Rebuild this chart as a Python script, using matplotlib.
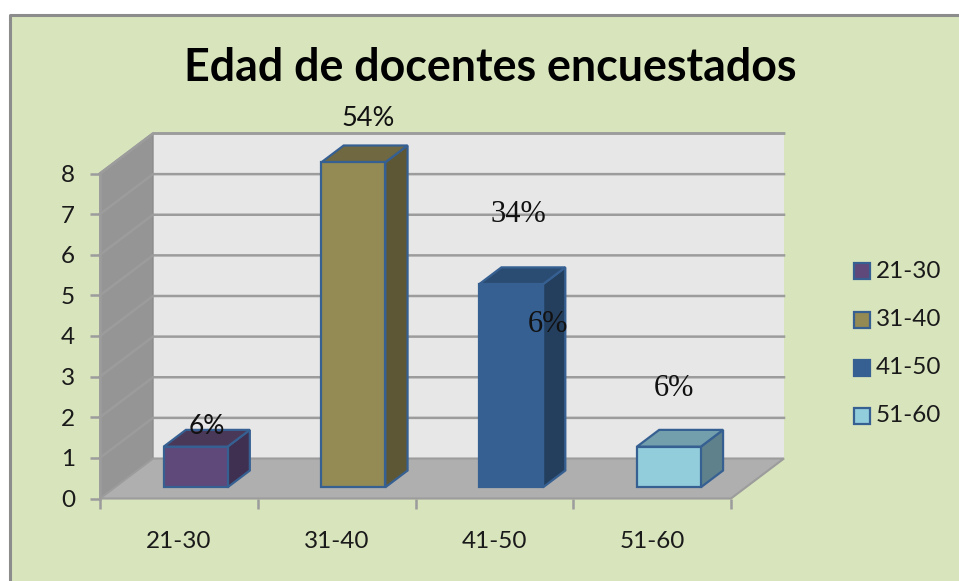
import matplotlib
matplotlib.use("Agg")
import matplotlib.pyplot as plt
from matplotlib.patches import Polygon, Rectangle

categories = ["21-30", "31-40", "41-50", "51-60"]
values = [1, 8, 5, 1]
front_colors = ["#5F497A", "#948A54", "#366092", "#92CDDC"]
top_colors = ["#4A3858", "#6F6840", "#2B4C72", "#739EAB"]
side_colors = ["#3F2F50", "#5E5735", "#243F5E", "#5F818C"]
y_ticks = [0, 1, 2, 3, 4, 5, 6, 7, 8]
title = "Edad de docentes encuestados"
pct_labels = ["6%", "54%", "34%", "6%", "6%"]

W, H = 959, 581
BG = "#D8E4BC"
GRID = "#9C9C9C"
EDGE = "#366092"
SANS = "Lato"
SERIF = "Liberation Serif"

fig = plt.figure(figsize=(W / 100, H / 100), dpi=100, facecolor="white")


def fx(p):
    return p / W


def fy(p):
    return 1 - p / H


# Chart area with grey top and left border
fig.add_artist(Rectangle((fx(10), 0), 1 - fx(10), fy(15), transform=fig.transFigure,
                         facecolor=BG, edgecolor="none", zorder=0))
fig.add_artist(plt.Line2D([fx(9.5), fx(9.5), 1], [0, fy(14.5), fy(14.5)], transform=fig.transFigure,
                          color="#8C8C8C", lw=2.2, zorder=1))

# Axes = the front plane of the oblique box
ax = fig.add_axes([fx(100), fy(498.5), 631 / W, 325 / H])
ax.set_xlim(0, 4)
ax.set_ylim(0, 8)
ax.patch.set_alpha(0)
for s in ax.spines.values():
    s.set_visible(False)

DX = 53 / (631 / 4)   # full depth, x units
DY = 40 / (325 / 8)   # full depth, y units
TOP = max(y_ticks)


def proj(x, y, d):
    return (x + d * DX, y + d * DY)


def poly(pts, **kw):
    ax.add_patch(Polygon(pts, closed=True, clip_on=False, **kw))


# Walls and floor
poly([proj(0, 0, 1), proj(4, 0, 1), proj(4, TOP, 1), proj(0, TOP, 1)],
     facecolor="#E7E7E7", edgecolor="none", zorder=1)
poly([proj(0, 0, 0), proj(0, 0, 1), proj(0, TOP, 1), proj(0, TOP, 0)],
     facecolor="#959595", edgecolor="#8C8C8C", lw=1, zorder=1)
poly([proj(0, 0, 0), proj(4, 0, 0), proj(4, 0, 1), proj(0, 0, 1)],
     facecolor="#AFAFAF", edgecolor="#9C9C9C", lw=1.5, zorder=1)

# Gridlines
for v in y_ticks[1:]:
    a, b, c = proj(0, v, 0), proj(0, v, 1), proj(4, v, 1)
    ax.plot([a[0], b[0], c[0]], [a[1], b[1], c[1]], color=GRID, lw=1.8, zorder=2,
            clip_on=False, solid_joinstyle="miter")
top = [proj(0, TOP, 0), proj(0, TOP, 1), proj(4, TOP, 1)]
ax.plot(*zip(*top), color=GRID, lw=1.8, zorder=2, clip_on=False)
ax.plot([0, 0], [0, TOP], color=GRID, lw=1.8, zorder=2, clip_on=False)

# Bars
BAR_W = 0.405
SHIFT = 0.012
D0, D1 = 0.28, 0.70
for i, (v, cf, ct, cs) in enumerate(zip(values, front_colors, top_colors, side_colors)):
    c = i + 0.5 + SHIFT
    l, r = c - BAR_W / 2, c + BAR_W / 2
    kw = dict(edgecolor=EDGE, lw=1.6, joinstyle="miter", zorder=3 + i)
    poly([proj(r, 0, D0), proj(r, 0, D1), proj(r, v, D1), proj(r, v, D0)], facecolor=cs, **kw)
    poly([proj(l, v, D0), proj(r, v, D0), proj(r, v, D1), proj(l, v, D1)], facecolor=ct, **kw)
    poly([proj(l, 0, D0), proj(r, 0, D0), proj(r, v, D0), proj(l, v, D0)], facecolor=cf, **kw)

# Axis ticks and labels
ax.set_xticks(range(len(categories) + 1))
ax.set_xticklabels([])
ax.set_yticks(y_ticks)
ax.tick_params(axis="both", length=7, width=1.8, color=GRID, direction="out")
ax.tick_params(axis="y", labelsize=17.5, pad=11, labelcolor="#1A1A1A")
for lab in ax.get_yticklabels():
    lab.set_fontfamily(SANS)
for i, cat in enumerate(categories):
    ax.annotate(cat, (i + 0.5, 0), xytext=(0, -31), textcoords="offset points", ha="center",
                va="center", fontsize=17.5, family=SANS, color="#1A1A1A", annotation_clip=False)

# Title
fig.text(fx(490), fy(68), title, ha="center", va="center", fontsize=32.2, fontweight="bold",
         family=SANS, color="black")

# Free-floating percent labels
label_pos = [(207, 427), (368, 118), (518, 215), (548, 324), (674, 388)]
label_font = [SANS, SANS, SERIF, SERIF, SERIF]
label_size = [19, 19.5, 22, 22, 22]
for txt, (px, py), fam, sz in zip(pct_labels, label_pos, label_font, label_size):
    fig.text(fx(px), fy(py), txt, ha="center", va="center", family=fam, fontsize=sz,
             color="#111111", zorder=20)

# Legend
leg_y = [271, 320, 368, 416]
for cat, cf, ly in zip(categories, front_colors, leg_y):
    fig.add_artist(Rectangle((fx(854), fy(ly + 8)), 16 / W, 16 / H, transform=fig.transFigure,
                             facecolor=cf, edgecolor=EDGE, lw=1.6, zorder=5))
    fig.text(fx(876), fy(ly), cat, ha="left", va="center", family=SANS, fontsize=17.5, color="#1A1A1A")

fig.savefig("out.png", dpi=100, facecolor="white")
